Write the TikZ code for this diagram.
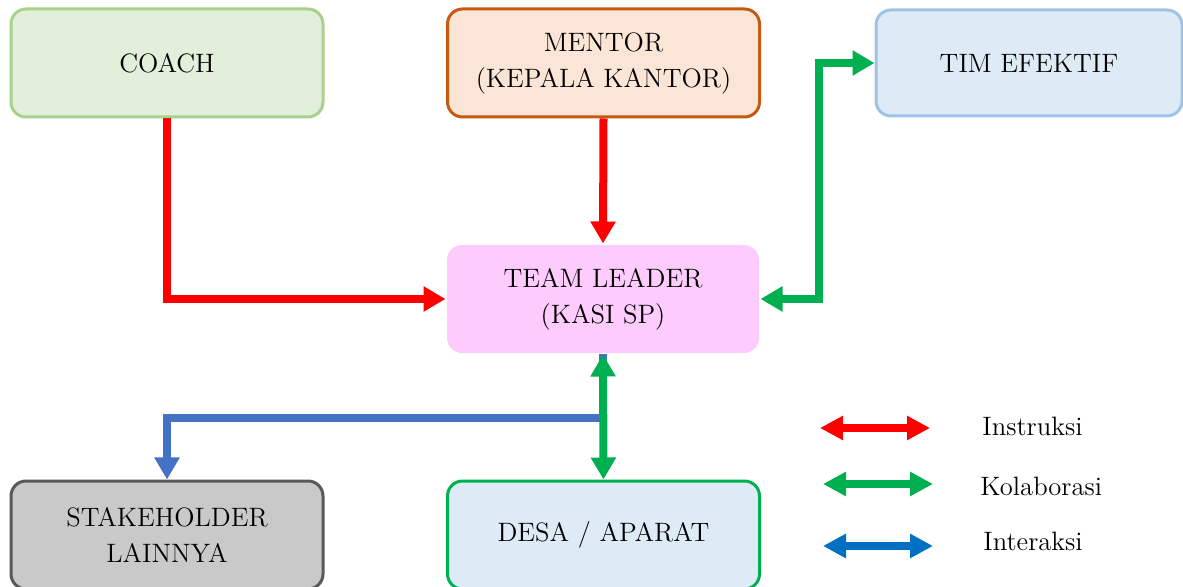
\documentclass[tikz,border=0pt]{standalone}
\usetikzlibrary{arrows.meta}
\definecolor{coachfill}{HTML}{E2EFDA}
\definecolor{coachdraw}{HTML}{A9D18E}
\definecolor{mentorfill}{HTML}{FBE5D6}
\definecolor{mentordraw}{HTML}{C55A11}
\definecolor{timfill}{HTML}{DEEBF7}
\definecolor{timdraw}{HTML}{9DC3E6}
\definecolor{tlfill}{HTML}{FDCCFD}
\definecolor{stakefill}{HTML}{C9C9C9}
\definecolor{stakedraw}{HTML}{595959}
\definecolor{desadraw}{HTML}{00B050}
\definecolor{kgreen}{HTML}{00B050}
\definecolor{kblue}{HTML}{4472C4}
\definecolor{lblue}{HTML}{0070C0}
\definecolor{kred}{HTML}{FF0000}
\tikzset{
  box/.style={rounded corners=7.5pt, line width=1.5pt, minimum width=156pt, minimum height=54pt,
    align=center, inner sep=0pt, font=\fontsize{13.3}{18}\selectfont},
  conn/.style={line width=4pt, -{Triangle[length=11pt,width=12pt]}},
  bconn/.style={line width=4pt, {Triangle[length=11pt,width=12pt]}-{Triangle[length=11pt,width=12pt]}},
  legarrow/.style={line width=4pt, {Triangle[length=11.5pt,width=11.5pt]}-{Triangle[length=11.5pt,width=11.5pt]}},
  legtext/.style={font=\fontsize{13.3}{16}\selectfont, inner sep=0pt}
}
\begin{document}
\begin{tikzpicture}[x=0.5pt,y=-0.5pt]
\useasboundingbox (0,0) rectangle (1183,587);
\node[box, fill=coachfill, draw=coachdraw] (coach) at (167,63) {COACH};
\node[box, fill=mentorfill, draw=mentordraw] (mentor) at (603.5,63) {MENTOR\\(KEPALA KANTOR)};
\node[box, fill=timfill, draw=timdraw, minimum width=153pt, minimum height=53pt] (tim) at (1029,63) {TIM EFEKTIF};
\node[box, fill=tlfill] (tl) at (603,299) {TEAM LEADER\\(KASI SP)};
\node[box, fill=stakefill, draw=stakedraw] (stake) at (167,535) {STAKEHOLDER\\LAINNYA};
\node[box, fill=timfill, draw=desadraw] (desa) at (603.5,535) {DESA / APARAT};

\draw[conn, kred] (coach.south) |- (tl.west);
\draw[conn, kred] (mentor.south) -- (tl.north);
\draw[bconn, kgreen] (tl.east) -- ++(58,0) |- (tim.west);
\draw[conn, kblue] (tl.south) -- ++(0,64) -| (stake.north);
\draw[bconn, kgreen] (tl.south) -- (desa.north);

\coordinate (r1) at (820,428); \coordinate (r2) at (930,428);
\coordinate (g1) at (823,484); \coordinate (g2) at (933,484);
\coordinate (b1) at (823,546); \coordinate (b2) at (933,546);
\draw[legarrow, kred] (r1) -- (r2);
\draw[legarrow, kgreen] (g1) -- (g2);
\draw[legarrow, lblue] (b1) -- (b2);
\node[legtext, anchor=west] (li) at (982,426) {Instruksi};
\node[legtext, anchor=west] (lk) at (980,486) {Kolaborasi};
\node[legtext, anchor=west] (lx) at (983,541) {Interaksi};
\end{tikzpicture}
\end{document}
